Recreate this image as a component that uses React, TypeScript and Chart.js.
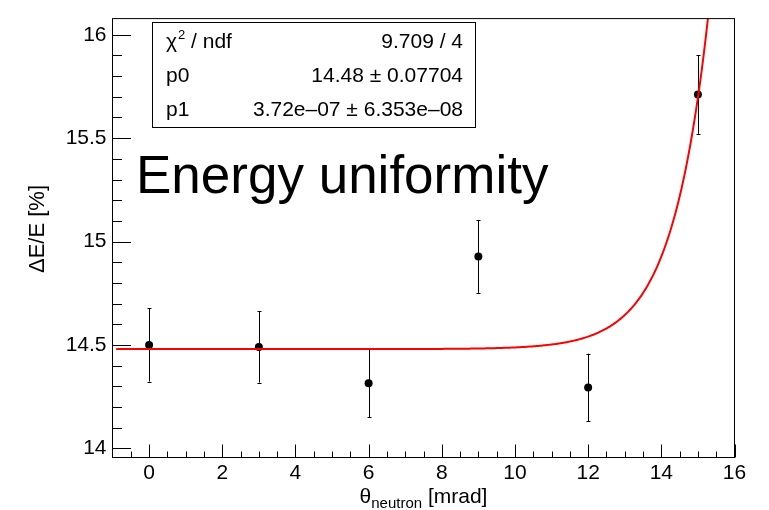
import React, { useEffect, useRef } from "react";
import { Chart, registerables } from "chart.js";

Chart.register(...registerables);

// Measured energy resolution per neutron angle
const angles = [0, 3, 6, 9, 12, 15];
const resolution = [14.5, 14.49, 14.315, 14.928, 14.295, 15.711];
const resolutionErr = [0.177, 0.172, 0.165, 0.176, 0.163, 0.19];

// Axis ticks
const xTicks = [0, 2, 4, 6, 8, 10, 12, 14, 16];
const yTicks = [14, 14.5, 15, 15.5, 16];

// Fit result: f(x) = p0 + p1 * exp(x)
const fitP0 = 14.48;
const fitP1 = 3.72e-7;
const fitRange = [-0.9, 15.4];

const statsLabels = ["/ ndf", "p0", "p1"];
const statsValues = ["9.709 / 4", "14.48 \u00b1 0.07704", "3.72e\u201307 \u00b1 6.353e\u201308"];

const FONT = "'Liberation Sans', Arial, sans-serif";

function fitCurve() {
  const pts: { x: number; y: number }[] = [];
  const n = 400;
  for (let i = 0; i <= n; i++) {
    const x = fitRange[0] + ((fitRange[1] - fitRange[0]) * i) / n;
    pts.push({ x, y: fitP0 + fitP1 * Math.exp(x) });
  }
  return pts;
}

const rootStyle = {
  id: "rootStyle",
  beforeDatasetsDraw(chart: any) {
    const { ctx } = chart;
    const xs = chart.scales.x;
    const ys = chart.scales.y;
    ctx.save();
    ctx.strokeStyle = "#000";
    ctx.lineWidth = 1;
    angles.forEach((a, i) => {
      const px = Math.round(xs.getPixelForValue(a)) + 0.5;
      const top = ys.getPixelForValue(resolution[i] + resolutionErr[i]);
      const bot = ys.getPixelForValue(resolution[i] - resolutionErr[i]);
      ctx.beginPath();
      ctx.moveTo(px, top);
      ctx.lineTo(px, bot);
      ctx.moveTo(px - 2, Math.round(top) + 0.5);
      ctx.lineTo(px + 2, Math.round(top) + 0.5);
      ctx.moveTo(px - 2, Math.round(bot) + 0.5);
      ctx.lineTo(px + 2, Math.round(bot) + 0.5);
      ctx.stroke();
    });
    ctx.restore();
  },
  afterDraw(chart: any) {
    const { ctx, chartArea } = chart;
    const xs = chart.scales.x;
    const ys = chart.scales.y;
    const { left, right, top, bottom } = chartArea;
    ctx.save();
    ctx.strokeStyle = "#000";
    ctx.lineWidth = 1;

    // frame
    ctx.strokeRect(left, top, right - left, bottom - top);

    // inner ticks, y axis
    ctx.beginPath();
    for (let k = 0; ; k++) {
      const v = 13.9 + k * 0.1;
      if (v > ys.max + 1e-9) break;
      if (v < ys.min) continue;
      const py = Math.round(ys.getPixelForValue(v)) + 0.5;
      const major = Math.abs(v * 2 - Math.round(v * 2)) < 1e-6;
      ctx.moveTo(left, py);
      ctx.lineTo(left + (major ? 18.5 : 9.5), py);
    }
    // inner ticks, x axis
    for (let k = 0; ; k++) {
      const v = -1 + k * 0.5;
      if (v > xs.max + 1e-9) break;
      if (v <= xs.min) continue;
      const px = Math.round(xs.getPixelForValue(v)) + 0.5;
      const major = Math.abs(v / 2 - Math.round(v / 2)) < 1e-6;
      ctx.moveTo(px, bottom);
      ctx.lineTo(px, bottom - (major ? 13 : 6));
    }
    ctx.stroke();

    ctx.fillStyle = "#000";

    // y axis title
    ctx.save();
    ctx.translate(44, 229);
    ctx.rotate(-Math.PI / 2);
    ctx.font = `22px ${FONT}`;
    ctx.textAlign = "center";
    ctx.textBaseline = "alphabetic";
    ctx.fillText("\u0394E/E [%]", 0, 0);
    ctx.restore();

    // x axis title with subscript
    const mainFont = `21px ${FONT}`;
    const subFont = `15px ${FONT}`;
    ctx.textBaseline = "alphabetic";
    ctx.textAlign = "left";
    ctx.font = mainFont;
    const wTheta = ctx.measureText("\u03b8").width;
    const wTail = ctx.measureText(" [mrad]").width;
    ctx.font = subFont;
    const wSub = ctx.measureText("neutron").width;
    let tx = (left + right) / 2 - (wTheta + wSub + wTail) / 2;
    const base = 503;
    ctx.font = mainFont;
    ctx.fillText("\u03b8", tx, base);
    tx += wTheta;
    ctx.font = subFont;
    ctx.fillText("neutron", tx, base + 5);
    tx += wSub;
    ctx.font = mainFont;
    ctx.fillText(" [mrad]", tx, base);

    // large label inside the frame
    ctx.font = `53px ${FONT}`;
    ctx.fillText("Energy uniformity", 136, 193);

    // statistics box
    const bx = 152.5, by = 22.5, bw = 323, bh = 105;
    ctx.fillStyle = "#fff";
    ctx.fillRect(bx, by, bw, bh);
    ctx.strokeRect(bx, by, bw, bh);
    ctx.fillStyle = "#000";
    const rowBase = [48, 82, 116];
    const labelX = 166;
    const valueX = 463;
    rowBase.forEach((yb, i) => {
      ctx.textAlign = "left";
      ctx.font = `21px ${FONT}`;
      if (i === 0) {
        ctx.fillText("\u03c7", labelX, yb);
        const w1 = ctx.measureText("\u03c7").width;
        ctx.font = `13px ${FONT}`;
        ctx.fillText("2", labelX + w1 + 1, yb - 9);
        const w2 = ctx.measureText("2").width;
        ctx.font = `21px ${FONT}`;
        ctx.fillText(" " + statsLabels[0], labelX + w1 + w2 + 1, yb);
      } else {
        ctx.fillText(statsLabels[i], labelX, yb);
      }
      ctx.textAlign = "right";
      ctx.fillText(statsValues[i], valueX, yb);
    });

    ctx.restore();
  },
};

export default function App() {
  const ref = useRef<HTMLCanvasElement>(null);

  useEffect(() => {
    const canvas = ref.current;
    if (!canvas) return;
    const tickFont = { family: FONT, size: 21 };
    const points = angles.map((a, i) => ({ x: a, y: resolution[i] }));
    const chart = new Chart(canvas, {
      type: "scatter",
      data: {
        datasets: [
          {
            type: "line",
            data: fitCurve(),
            borderColor: "#ff0000",
            borderWidth: 2,
            pointRadius: 0,
            fill: false,
            tension: 0,
            order: 0,
          } as any,
          {
            type: "scatter",
            data: points,
            backgroundColor: "#000",
            borderColor: "#000",
            borderWidth: 0,
            pointRadius: 4,
            order: 1,
          },
        ],
      },
      options: {
        responsive: false,
        animation: false,
        devicePixelRatio: 1,
        layout: { padding: { left: 0, top: 9.5, right: 34.5, bottom: 0 } },
        plugins: {
          legend: { display: false },
          tooltip: { enabled: false },
          title: { display: false },
        },
        scales: {
          x: {
            type: "linear",
            min: -1,
            max: 16,
            grid: { display: false, drawTicks: false },
            border: { display: false },
            ticks: {
              font: tickFont,
              color: "#000",
              padding: 3,
              maxRotation: 0,
              autoSkip: false,
              callback: (v: any) => String(v),
            },
            afterBuildTicks: (s: any) => {
              s.ticks = xTicks.map((v) => ({ value: v }));
            },
            afterFit: (s: any) => {
              s.height = 52.5;
            },
          },
          y: {
            type: "linear",
            min: 13.956,
            max: 16.078,
            grid: { display: false, drawTicks: false },
            border: { display: false },
            ticks: {
              font: tickFont,
              color: "#000",
              padding: 6,
              autoSkip: false,
              callback: (v: any) => String(v),
            },
            afterBuildTicks: (s: any) => {
              s.ticks = yTicks.map((v) => ({ value: v }));
            },
            afterFit: (s: any) => {
              s.width = 112.5;
            },
          },
        },
      },
      plugins: [rootStyle],
    });
    return () => chart.destroy();
  }, []);

  return (
    <div style={{ position: "absolute", left: 0, top: 0, width: 769, height: 510, background: "#fff" }}>
      <canvas ref={ref} width={769} height={510} style={{ display: "block", width: 769, height: 510 }} />
    </div>
  );
}
